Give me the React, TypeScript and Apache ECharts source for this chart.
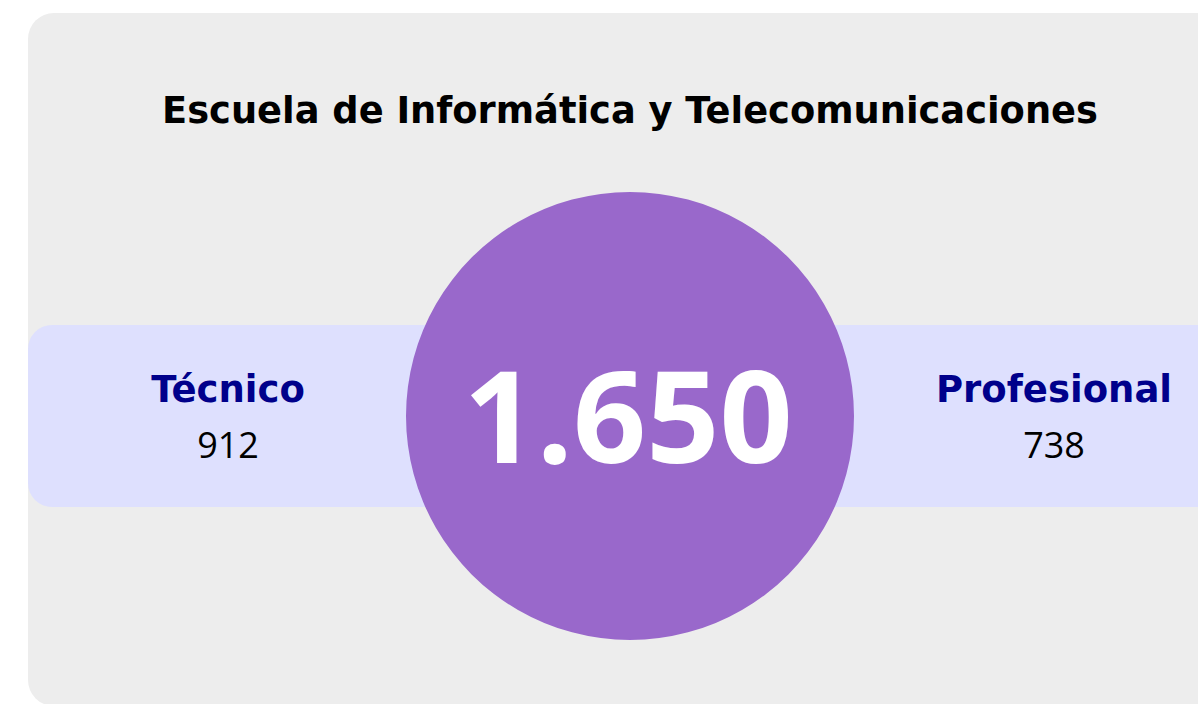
import React, { useEffect, useRef } from "react";
import * as echarts from "echarts";

const titleText = "Escuela de Informática y Telecomunicaciones";
const categories = ["Técnico", "Profesional"];
const values = [912, 738];

const fmt = (n: number) => n.toLocaleString("de-DE");

export default function App() {
  const ref = useRef<HTMLDivElement>(null);
  useEffect(() => {
    if (!ref.current) return;
    const chart = echarts.init(ref.current, null, { renderer: "svg" });
    const total = values.reduce((a, b) => a + b, 0);
    const bfont = "DejaVu Sans";
    const font = "Open Sans";
    const sideX = [228, 1054];
    const option: any = {
      animation: false,
      graphic: [
        { type: "rect", shape: { x: 28, y: 13, width: 1220, height: 693, r: 26 }, style: { fill: "#ededed" } },
        { type: "rect", shape: { x: 28, y: 325, width: 1220, height: 182, r: [24, 0, 0, 24] }, style: { fill: "#dee0fe" } },
        { type: "circle", shape: { cx: 630, cy: 416, r: 224 }, style: { fill: "#9968cb" } },
        {
          type: "text", x: 630, y: 110,
          style: { text: titleText, fill: "#000", font: `bold 36.8px "${bfont}"`, align: "center", verticalAlign: "middle" },
        },
        {
          type: "text", x: 628, y: 413,
          style: { text: fmt(total), fill: "#fff", font: `bold 128px "${font}"`, align: "center", verticalAlign: "middle" },
        },
        ...categories.flatMap((c, i) => [
          {
            type: "text", x: sideX[i], y: 389,
            style: { text: c, fill: "#00008b", font: `bold 37px "${bfont}"`, align: "center", verticalAlign: "middle" },
          },
          {
            type: "text", x: sideX[i], y: 444,
            style: { text: fmt(values[i]), fill: "#000", font: `normal 36px "${font}"`, align: "center", verticalAlign: "middle" },
          },
        ]),
      ],
    };
    chart.setOption(option);
    return () => chart.dispose();
  }, []);
  return <div ref={ref} style={{ position: "fixed", left: 0, top: 0, width: 1198, height: 704, background: "#fff" }} />;
}
